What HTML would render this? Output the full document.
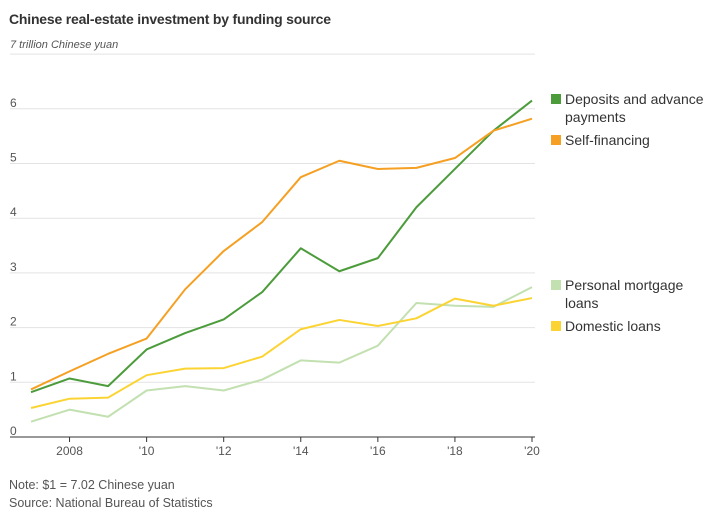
<!DOCTYPE html>
<html><head><meta charset="utf-8">
<style>
body{margin:0;background:#fff;font-family:"Liberation Sans",sans-serif;}
#wrap{position:relative;width:710px;height:519px;overflow:hidden;}
.title{position:absolute;left:9px;top:11px;font-size:14px;font-weight:bold;color:#333;letter-spacing:-0.2px;}
.note{position:absolute;left:9px;font-size:12.5px;color:#555;}
</style></head><body>
<div id="wrap">
<div class="title">Chinese real-estate investment by funding source</div>
<svg id="chart" width="710" height="519" style="position:absolute;left:0;top:0"></svg>
<div class="note" style="top:478px">Note: $1 = 7.02 Chinese yuan</div>
<div class="note" style="top:496px">Source: National Bureau of Statistics</div>
</div>
<script>
const years=[2007,2008,2009,2010,2011,2012,2013,2014,2015,2016,2017,2018,2019,2020];
const deposits=[0.82,1.07,0.93,1.6,1.9,2.15,2.65,3.45,3.03,3.27,4.2,4.9,5.6,6.15];
const selfFin=[0.87,1.2,1.52,1.8,2.7,3.4,3.93,4.75,5.05,4.9,4.92,5.1,5.6,5.82];
const mortgage=[0.28,0.5,0.37,0.85,0.93,0.85,1.05,1.4,1.36,1.67,2.45,2.4,2.38,2.74];
const domestic=[0.53,0.7,0.72,1.13,1.25,1.26,1.47,1.97,2.14,2.03,2.17,2.53,2.4,2.54];
const yTicks=[0,1,2,3,4,5,6,7];
const xTickYears=[2008,2010,2012,2014,2016,2018,2020];
const xTickLabels=["2008","'10","'12","'14","'16","'18","'20"];
const NS="http://www.w3.org/2000/svg";
const svg=document.getElementById('chart');
const x=v=>31+(v-2007)*(532-31)/13;
const y=v=>437-v*54.7;
function mk(t,a){const e=document.createElementNS(NS,t);for(const k in a)e.setAttribute(k,a[k]);svg.appendChild(e);return e;}
yTicks.forEach(t=>{
  if(t>0){const g=mk('line',{x1:10,x2:535,y1:y(t),y2:y(t),stroke:'#e3e3e3','stroke-width':1});
  
  }
  const l=mk('text',{x:10,y:t===7?y(t)-6:y(t)-2,'font-size':12,fill:'#555','font-family':'Liberation Sans'});
  l.textContent=t===7?'7 trillion Chinese yuan':String(t);
  if(t===7){l.setAttribute('font-size',11);l.setAttribute('font-style','italic');}
  
  
});
const ax=mk('line',{x1:10,x2:535,y1:437,y2:437,stroke:'#333','stroke-width':1});


xTickYears.forEach((yr,i)=>{
  const tk=mk('line',{x1:x(yr),x2:x(yr),y1:437,y2:442,stroke:'#333'});
  
  
  const l=mk('text',{x:x(yr),y:455,'font-size':12,fill:'#555','text-anchor':'middle','font-family':'Liberation Sans'});
  l.textContent=xTickLabels[i];
  
  
});
function series(vals,color,name){
  const p=mk('polyline',{points:vals.map((v,i)=>x(years[i])+','+y(v)).join(' '),fill:'none',stroke:color,'stroke-width':2,'stroke-linejoin':'round'});
  
  
}
series(mortgage,'#c2e0b0','line-personal-mortgage-loans');
series(domestic,'#fbd434','line-domestic-loans');
series(deposits,'#4c9c3c','line-deposits');
series(selfFin,'#f5a023','line-self-financing');
function legend(ty,color,lines,name){
  const r=mk('rect',{x:551,y:ty-10,width:10,height:10,fill:color});
  
  
  lines.forEach((s,i)=>{const t=mk('text',{x:565,y:ty+i*18,'font-size':14,fill:'#333','font-family':'Liberation Sans'});
  t.textContent=s;
  
  });
}
legend(104,'#4c9c3c',['Deposits and advance','payments'],'legend-deposits');
legend(145,'#f5a023',['Self-financing'],'legend-self-financing');
legend(290,'#c2e0b0',['Personal mortgage','loans'],'legend-mortgage');
legend(331,'#fbd434',['Domestic loans'],'legend-domestic-loans');
</script>
</body></html>
